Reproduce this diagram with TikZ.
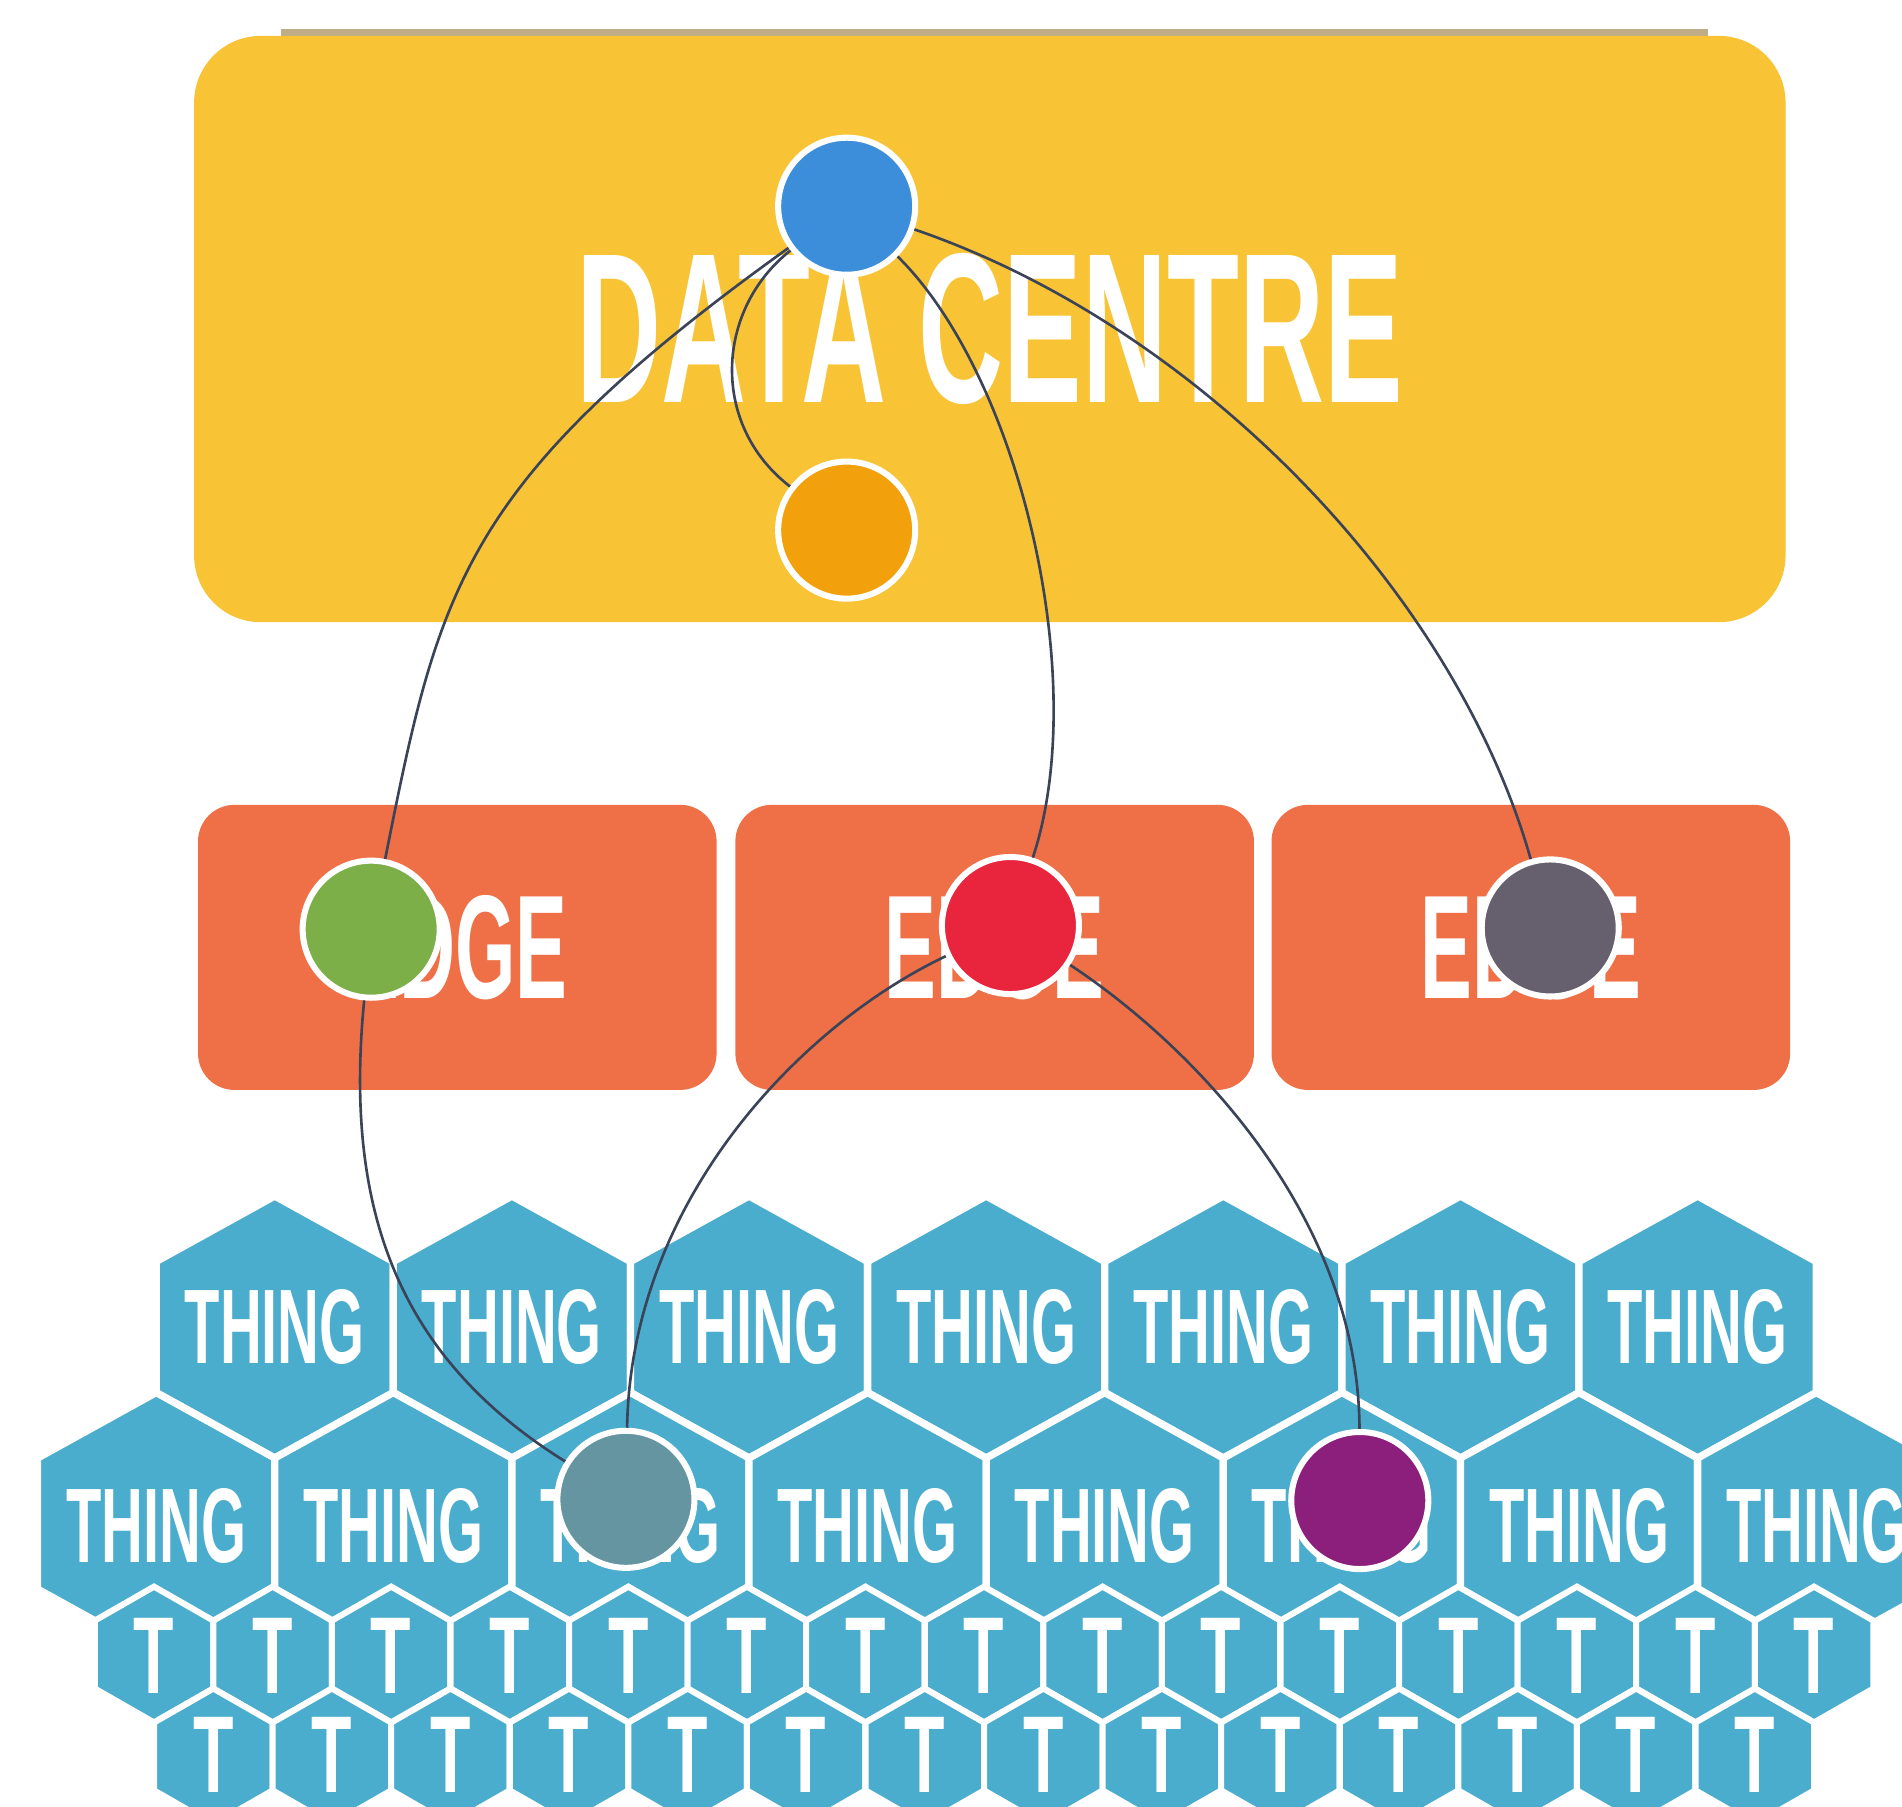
\documentclass[tikz,border=0pt]{standalone}
\usepackage{fontspec}
\setmainfont{Liberation Sans}
\usepackage{graphicx}
% condensed text: #1 width, #2 height, #3 text
\newcommand\condtext[3]{\resizebox{#1}{#2}{\bfseries #3}}
\definecolor{dcyellow}{HTML}{F8C335}
\definecolor{dcshadow}{HTML}{BFAD8A}
\definecolor{edgeor}{HTML}{EF7047}
\definecolor{hexblue}{HTML}{4AADCE}
\definecolor{cblue}{HTML}{3C8DDA}
\definecolor{corange}{HTML}{F2A10C}
\definecolor{cgreen}{HTML}{7CAF48}
\definecolor{cred}{HTML}{E8253D}
\definecolor{cgray}{HTML}{665F6E}
\definecolor{cteal}{HTML}{6595A0}
\definecolor{cpurple}{HTML}{8D1F7C}
\definecolor{linkcol}{HTML}{3A4358}
\begin{document}
\begin{tikzpicture}[x=0.3pt, y=-0.3pt,
  dcbox/.style={rounded corners=16.5pt, fill=dcyellow, minimum width=393.6pt, minimum height=145pt, inner sep=0pt, text=white},
  edgebox/.style={rounded corners=9pt, fill=edgeor, minimum width=128.25pt, minimum height=70.5pt, inner sep=0pt, text=white},
  hub/.style={circle, draw=white, line width=1.5pt, minimum size=33.9pt, inner sep=0pt},
  linkline/.style={draw=linkcol, line width=0.65pt},
  hexb/.style={fill=hexblue, draw=white, line width=1.8pt, line join=miter},
  hexs/.style={fill=hexblue, draw=white, line width=1.5pt, line join=miter},
  lbl/.style={text=white, inner sep=0pt, outer sep=0pt}]
\useasboundingbox (0,0) rectangle (1568,1489);
\clip (0,0) rectangle (1568,1489);
\fill[white] (0,0) rectangle (1568,1489);
% data centre
\fill[dcshadow] (232,24) rectangle (1408,32);
\node[dcbox] (dc) at (816,271.25) {\condtext{204.3pt}{36.9pt}{DATA CENTRE}};
% edge boxes
\node[edgebox] (edge1) at (377,781) {\condtext{54.4pt}{25.5pt}{EDGE}};
\node[edgebox] (edge2) at (820,781) {\condtext{54.4pt}{25.5pt}{EDGE}};
\node[edgebox] (edge3) at (1262,781) {\condtext{54.4pt}{25.5pt}{EDGE}};
% hexagons row 1
\foreach \i in {0,...,6}{
  \pgfmathsetmacro\cx{226.5+195.5*\i}
  \path[hexb] (\cx,1094) ++(0,-108) -- ++(97.75,54) -- ++(0,108) -- ++(-97.75,54) -- ++(-97.75,-54) -- ++(0,-108) -- cycle;
  \node[lbl] (thingA\i) at (\cx,1094) {\condtext{44.5pt}{18.3pt}{THING}};
}
% row 2
\foreach \i in {0,...,7}{
  \pgfmathsetmacro\cx{128.75+195.5*\i}
  \path[hexb] (\cx,1256) ++(0,-108) -- ++(97.75,54) -- ++(0,108) -- ++(-97.75,54) -- ++(-97.75,-54) -- ++(0,-108) -- cycle;
  \node[lbl] (thingB\i) at (\cx,1258) {\condtext{44.5pt}{18.3pt}{THING}};
}
% row 3
\foreach \i in {0,...,14}{
  \pgfmathsetmacro\cx{127+97.75*\i}
  \path[hexs] (\cx,1364) ++(0,-56) -- ++(48.875,28) -- ++(0,56) -- ++(-48.875,28) -- ++(-48.875,-28) -- ++(0,-56) -- cycle;
  \node[lbl] (tC\i) at (\cx,1365) {\condtext{10pt}{18.6pt}{T}};
}
% row 4
\foreach \i in {0,...,13}{
  \pgfmathsetmacro\cx{175.875+97.75*\i}
  \path[hexs] (\cx,1448) ++(0,-56) -- ++(48.875,28) -- ++(0,56) -- ++(-48.875,28) -- ++(-48.875,-28) -- ++(0,-56) -- cycle;
  \node[lbl] (tD\i) at (\cx,1447) {\condtext{10pt}{18.6pt}{T}};
}
% hubs
\node[hub, fill=cblue]   (dc1) at (698,170) {};
\node[hub, fill=corange] (dc2) at (698,437) {};
\node[hub, fill=cgreen]  (e1)  at (306,766) {};
\node[hub, fill=cred]    (e2)  at (833,763) {};
\node[hub, fill=cgray]   (e3)  at (1278,765) {};
\node[hub, fill=cteal]   (t1)  at (516,1236) {};
\node[hub, fill=cpurple] (t2)  at (1121,1237) {};
% links
\draw[linkline] (dc1) .. controls (380,398) and (362,485) .. (e1);
\draw[linkline] (dc1) .. controls (590,255) and (585,350) .. (dc2);
\draw[linkline] (dc1) .. controls (840,310) and (900,560) .. (e2);
\draw[linkline] (dc1) .. controls (990,270) and (1200,490) .. (e3);
\draw[linkline] (e1) .. controls (283,1000) and (330,1120) .. (t1);
\draw[linkline] (e2) .. controls (660,845) and (520,990) .. (t1);
\draw[linkline] (e2) .. controls (980,860) and (1120,1000) .. (t2);
\end{tikzpicture}
\end{document}
